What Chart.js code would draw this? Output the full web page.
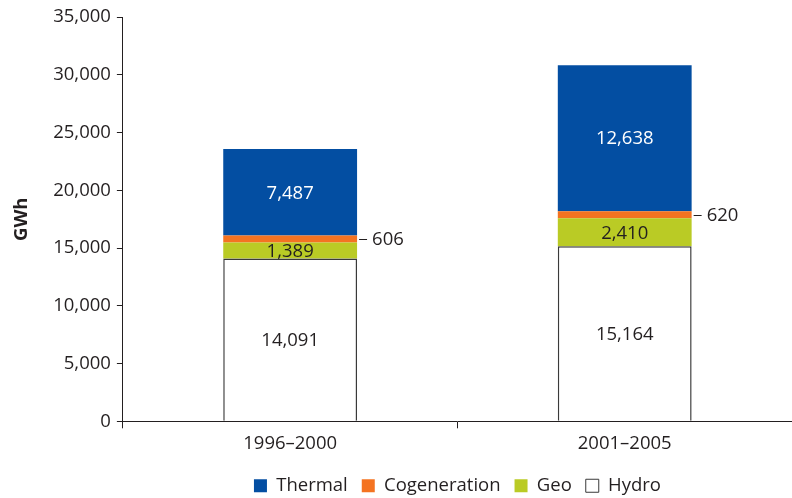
<!DOCTYPE html>
<html>
<head>
<meta charset="utf-8">
<script src="https://cdn.jsdelivr.net/npm/chart.js@4"></script>
<style>
  html, body { margin: 0; padding: 0; background: #fff; }
  #wrap { width: 792px; height: 498px; position: relative; }
</style>
</head>
<body>
<div id="wrap"><canvas id="c" width="792" height="498"></canvas></div>
<script>
const categories = ["1996–2000", "2001–2005"];
const hydro = [14091, 15164];
const geo = [1389, 2410];
const cogeneration = [606, 620];
const thermal = [7487, 12638];
const yTicks = [0, 5000, 10000, 15000, 20000, 25000, 30000, 35000];

const FONT = "'Open Sans', 'Noto Sans', sans-serif";
const FS = 18.5;
const TXT = '#231f20';
const fmt = v => v.toLocaleString('en-US');

const labelPlugin = {
  id: 'labels',
  beforeDraw(chart) {
    // center legend over the plot area, like the reference
    if (chart.legend) {
      chart.legend.left = chart.chartArea.left;
      chart.legend.right = chart.chartArea.right;
    }
  },
  afterDatasetsDraw(chart) {
    const ctx = chart.ctx;
    ctx.save();
    ctx.font = FS + 'px ' + FONT;
    ctx.textBaseline = 'middle';
    chart.data.datasets.forEach((ds, di) => {
      const meta = chart.getDatasetMeta(di);
      meta.data.forEach((bar, i) => {
        const v = ds.data[i];
        const mid = (bar.y + bar.base) / 2;
        if (ds.label === 'Cogeneration') {
          const xr = bar.x + bar.width / 2;
          ctx.strokeStyle = TXT;
          ctx.lineWidth = 1;
          ctx.beginPath();
          ctx.moveTo(xr + 2, Math.round(mid) + 0.5);
          ctx.lineTo(xr + 10, Math.round(mid) + 0.5);
          ctx.stroke();
          ctx.fillStyle = TXT;
          ctx.textAlign = 'left';
          ctx.fillText(fmt(v), xr + 15, mid + 1);
        } else {
          ctx.fillStyle = ds.label === 'Thermal' ? '#ffffff' : TXT;
          ctx.textAlign = 'center';
          ctx.fillText(fmt(v), bar.x, mid + 1);
        }
      });
    });
    ctx.restore();
  }
};

new Chart(document.getElementById('c'), {
  type: 'bar',
  data: {
    labels: categories,
    datasets: [
      { label: 'Hydro', data: hydro, backgroundColor: '#ffffff', borderColor: '#3a3a3a', borderWidth: 1.5, stack: 's' },
      { label: 'Geo', data: geo, backgroundColor: '#bacb25', borderWidth: 0, stack: 's' },
      { label: 'Cogeneration', data: cogeneration, backgroundColor: '#f47321', borderWidth: 0, stack: 's' },
      { label: 'Thermal', data: thermal, backgroundColor: '#034ea2', borderWidth: 0, stack: 's' }
    ]
  },
  options: {
    responsive: false,
    animation: false,
    devicePixelRatio: 1,
    layout: { padding: { top: 11, right: 0, left: 11, bottom: -7 } },
    datasets: { bar: { categoryPercentage: 0.8, barPercentage: 0.5 } },
    scales: {
      x: {
        stacked: true,
        afterFit: s => { s.height += 4; },
        grid: { display: true, drawOnChartArea: false, drawTicks: true, tickLength: 7, color: TXT, offset: true },
        border: { display: true, color: TXT, width: 1 },
        ticks: { color: TXT, font: { family: FONT, size: FS }, padding: 4 }
      },
      y: {
        stacked: true,
        min: 0, max: 35000,
        afterBuildTicks: s => { s.ticks = yTicks.map(v => ({ value: v })); },
        grid: { display: true, drawOnChartArea: false, drawTicks: true, tickLength: 6, color: TXT },
        border: { display: true, color: TXT, width: 1 },
        ticks: { color: TXT, font: { family: FONT, size: FS }, padding: 6, callback: v => fmt(v) },
        title: { display: true, text: 'GWh', color: TXT, font: { family: FONT, size: FS, weight: 'bold' }, padding: { top: 0, bottom: 14 } }
      }
    },
    plugins: {
      legend: {
        position: 'bottom',
        labels: {
          color: TXT,
          font: { family: FONT, size: FS },
          boxWidth: 13, boxHeight: 13, padding: 14,
          generateLabels(chart) {
            return chart.data.datasets.map((ds, i) => ({
              text: ds.label,
              fillStyle: ds.backgroundColor,
              strokeStyle: ds.label === 'Hydro' ? '#3a3a3a' : ds.backgroundColor,
              lineWidth: ds.label === 'Hydro' ? 1 : 0,
              fontColor: TXT,
              datasetIndex: i,
              hidden: false
            })).reverse();
          }
        }
      },
      tooltip: { enabled: false }
    }
  },
  plugins: [labelPlugin]
});
</script>
</body>
</html>
